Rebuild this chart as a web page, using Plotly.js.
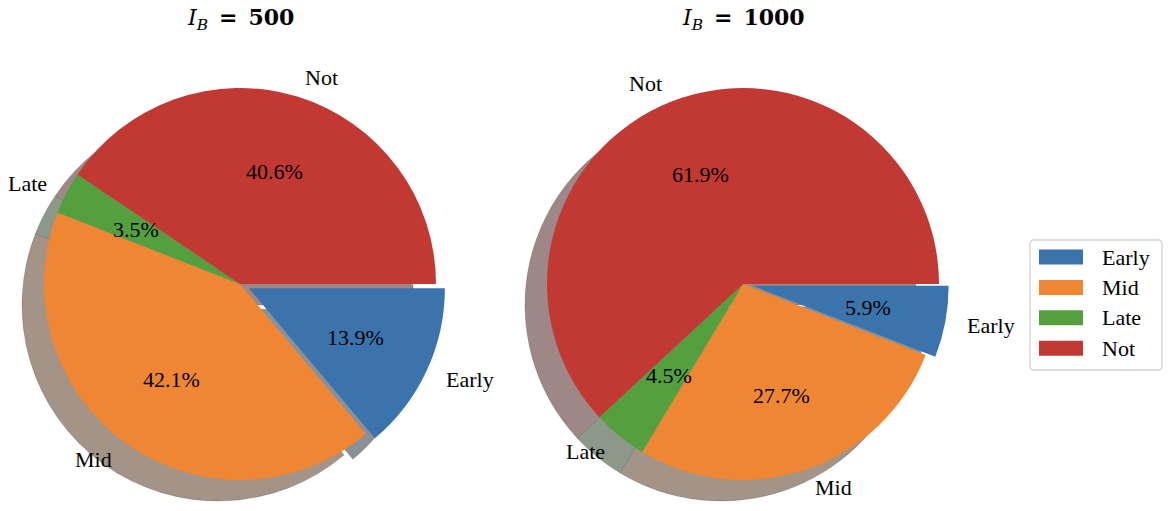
<!DOCTYPE html>
<html><head><meta charset="utf-8">
<script src="https://cdn.plot.ly/plotly-3.0.1.min.js"></script>
<style>html,body{margin:0;padding:0;background:#fff;overflow:hidden}#chart{width:1170px;height:511px}</style>
</head><body><div id="chart"></div>
<script>
// ---- data ----
const categories = ['Early', 'Mid', 'Late', 'Not'];
const valuesIB500 = [13.9, 42.1, 3.5, 40.6];
const valuesIB1000 = [5.9, 27.7, 4.5, 61.9];
const pieTitles = ['<i>I</i><sub><i>B</i></sub>&#8194;<b>=&#8194;500</b>', '<i>I</i><sub><i>B</i></sub>&#8194;<b>=&#8194;1000</b>'];
const explode = [0.05, 0, 0, 0];

// ---- style ----
const sliceColors = ['#3b73ac', '#ee8634', '#54a03f', '#c23832'];
const W = 1170, H = 511;
const R = 196;
const centers = [[240, 284], [743, 284]];
const shadowOff = [-22, 21];
const FONT = 'Liberation Serif, Times New Roman, serif';
const TITLE_FONT = 'DejaVu Serif, serif';

function shade(hex) {
  const n = parseInt(hex.slice(1), 16);
  const c = [(n >> 16) & 255, (n >> 8) & 255, n & 255].map(v => Math.round(0.15 * v + 127.5));
  return 'rgb(' + c.join(',') + ')';
}
const shadowColors = sliceColors.map(shade);
const maxPull = Math.max(...explode);

function domainFor(cx, cy) {
  const half = R * (1 + maxPull);
  const cl = v => Math.min(1, Math.max(0, v));
  return {
    x: [cl((cx - half) / W), cl((cx + half) / W)],
    y: [cl((H - cy - half) / H), cl((H - cy + half) / H)]
  };
}

const allValues = [valuesIB500, valuesIB1000];
const traces = [];
// shadows first
allValues.forEach((vals, k) => {
  const [cx, cy] = centers[k];
  traces.push({
    type: 'pie', labels: categories, values: vals, sort: false,
    direction: 'clockwise', rotation: 90, pull: explode,
    domain: domainFor(cx + shadowOff[0], cy + shadowOff[1]),
    marker: {colors: shadowColors, line: {color: 'rgba(50,50,50,0.3)', width: 0.7}},
    textinfo: 'none', hoverinfo: 'skip', showlegend: false
  });
});
allValues.forEach((vals, k) => {
  const [cx, cy] = centers[k];
  traces.push({
    type: 'pie', labels: categories, values: vals, sort: false,
    direction: 'clockwise', rotation: 90, pull: explode,
    domain: domainFor(cx, cy),
    marker: {colors: sliceColors, line: {width: 0}},
    textinfo: 'none', hoverinfo: 'label+percent', showlegend: false
  });
});

const annotations = [];
const shapes = [];
allValues.forEach((vals, k) => {
  const [cx, cy] = centers[k];
  const total = vals.reduce((a, b) => a + b, 0);
  let cum = 0;
  vals.forEach((v, i) => {
    const mid = -(cum + v / 2) / total * 2 * Math.PI;
    cum += v;
    const ca = Math.cos(mid), sa = Math.sin(mid);
    const sx = cx + explode[i] * R * ca, sy = cy - explode[i] * R * sa;
    const lx = sx + 1.1 * R * ca, ly = sy - 1.1 * R * sa;
    const px = sx + 0.6 * R * ca, py = sy - 0.6 * R * sa;
    annotations.push({
      xref: 'paper', yref: 'paper', x: lx / W, y: 1 - ly / H,
      xanchor: ca > 0 ? 'left' : 'right', yanchor: 'middle', showarrow: false,
      text: categories[i], font: {family: FONT, size: 22, color: '#000'}
    });
    annotations.push({
      xref: 'paper', yref: 'paper', x: px / W, y: 1 - py / H,
      xanchor: 'center', yanchor: 'middle', showarrow: false,
      text: (v / total * 100).toFixed(1) + '%', font: {family: FONT, size: 22, color: '#000'}
    });
  });
  annotations.push({
    xref: 'paper', yref: 'paper', x: cx / W, y: 1 - 19 / H,
    xanchor: 'center', yanchor: 'middle', showarrow: false,
    text: pieTitles[k], font: {family: TITLE_FONT, size: 22, color: '#000'}
  });
});

// legend (drawn)
const lg = {x0: 1030, x1: 1162, y0: 240, y1: 370, r: 4};
const px = x => x / W, py = y => 1 - y / H;
const rx = lg.r / W, ry = lg.r / H;
shapes.push({
  type: 'path', xref: 'paper', yref: 'paper',
  path: `M${px(lg.x0) + rx},${py(lg.y0)} L${px(lg.x1) - rx},${py(lg.y0)} Q${px(lg.x1)},${py(lg.y0)} ${px(lg.x1)},${py(lg.y0) - ry} ` +
        `L${px(lg.x1)},${py(lg.y1) + ry} Q${px(lg.x1)},${py(lg.y1)} ${px(lg.x1) - rx},${py(lg.y1)} ` +
        `L${px(lg.x0) + rx},${py(lg.y1)} Q${px(lg.x0)},${py(lg.y1)} ${px(lg.x0)},${py(lg.y1) + ry} ` +
        `L${px(lg.x0)},${py(lg.y0) - ry} Q${px(lg.x0)},${py(lg.y0)} ${px(lg.x0) + rx},${py(lg.y0)} Z`,
  line: {color: '#d3d3d3', width: 1.3}, fillcolor: 'rgba(255,255,255,0.8)'
});
categories.forEach((c, i) => {
  const yc = 257 + i * 30.4;
  shapes.push({
    type: 'rect', xref: 'paper', yref: 'paper',
    x0: px(1039), x1: px(1083), y0: py(yc + 7.5), y1: py(yc - 7.5),
    fillcolor: sliceColors[i], line: {width: 0}
  });
  annotations.push({
    xref: 'paper', yref: 'paper', x: px(1100), y: py(yc),
    xanchor: 'left', yanchor: 'middle', showarrow: false,
    text: c, font: {family: FONT, size: 22, color: '#000'}
  });
});

Plotly.newPlot('chart', traces, {
  width: W, height: H, margin: {l: 0, r: 0, t: 0, b: 0},
  paper_bgcolor: '#fff', plot_bgcolor: '#fff',
  showlegend: false, annotations: annotations, shapes: shapes
}, {displayModeBar: false, staticPlot: true});
</script></body></html>
